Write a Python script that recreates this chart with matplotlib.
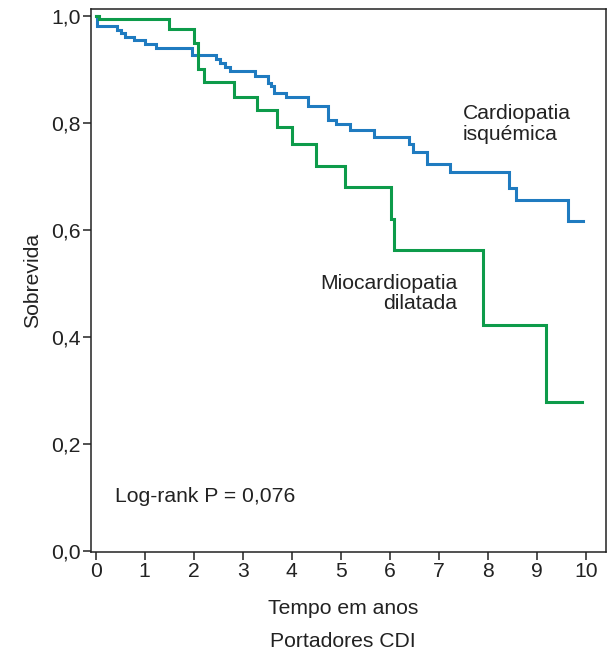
import matplotlib
matplotlib.use("Agg")
import matplotlib.pyplot as plt

# Data
isq_time = [0.0, 0.03, 0.43, 0.51, 0.59, 0.79, 1.01, 1.24, 1.97, 2.45, 2.54, 2.64, 2.74,
            3.25, 3.51, 3.58, 3.64, 3.89, 4.34, 4.73, 4.91, 5.18, 5.67, 6.40, 6.47,
            6.76, 7.22, 8.44, 8.58, 9.64, 9.95]
isq_surv = [1.0, 0.980, 0.974, 0.968, 0.961, 0.955, 0.947, 0.940, 0.926, 0.920, 0.912,
            0.904, 0.896, 0.888, 0.875, 0.869, 0.856, 0.849, 0.832, 0.806, 0.798, 0.786,
            0.774, 0.760, 0.745, 0.724, 0.708, 0.679, 0.656, 0.616, 0.616]

dil_time = [0.0, 0.07, 1.50, 2.01, 2.09, 2.20, 2.82, 3.29, 3.70, 4.01, 4.50, 5.09,
            6.02, 6.09, 7.90, 9.18, 9.93]
dil_surv = [1.0, 0.994, 0.975, 0.949, 0.901, 0.877, 0.849, 0.824, 0.793, 0.760, 0.720,
            0.681, 0.620, 0.563, 0.423, 0.279, 0.279]

x_ticks = list(range(0, 11))
y_ticks = [0.0, 0.2, 0.4, 0.6, 0.8, 1.0]
y_tick_labels = ["0,0", "0,2", "0,4", "0,6", "0,8", "1,0"]

plt.rcParams['font.family'] = ['Liberation Sans', 'DejaVu Sans']
txt_color = "#222222"
fs = 15.2

fig = plt.figure(figsize=(6.08, 6.52), dpi=100)
ax = fig.add_axes([90.7/608, 1-552.3/652, (606-90.7)/608, (552.3-9.3)/652])

ax.step(isq_time, isq_surv, where='post', color="#1f7bc0", lw=2.2, solid_joinstyle='miter')
ax.step(dil_time, dil_surv, where='post', color="#0d9b4a", lw=2.2, solid_joinstyle='miter')

ax.set_xlim(-0.102, 10.41)
ax.set_ylim(-0.002, 1.012)
ax.set_xticks(x_ticks)
ax.set_xticklabels([str(t) for t in x_ticks])
ax.set_yticks(y_ticks)
ax.set_yticklabels(y_tick_labels)

for sp in ax.spines.values():
    sp.set_linewidth(1.1)
    sp.set_color(txt_color)

ax.tick_params(axis='both', direction='out', length=5.5, width=1.1, color=txt_color,
               labelsize=fs, labelcolor=txt_color, pad=1.5)

ax.set_ylabel("Sobrevida", fontsize=fs, color=txt_color, labelpad=7)

fig.text(343/608, 1-608/652, "Tempo em anos", ha='center', va='center',
         fontsize=fs, color=txt_color)
fig.text(343/608, 1-641.7/652, "Portadores CDI", ha='center', va='center',
         fontsize=fs, color=txt_color)

fig.text(463/608, 1-124/652, "Cardiopatia\nisquémica", ha='left', va='center',
         fontsize=fs, color=txt_color, linespacing=1.15)
fig.text(457/608, 1-293.3/652, "Miocardiopatia\ndilatada", ha='right', va='center',
         fontsize=fs, color=txt_color, linespacing=1.1, multialignment='right')
fig.text(115/608, 1-496.7/652, "Log-rank P = 0,076", ha='left', va='center',
         fontsize=fs, color=txt_color)

fig.savefig("out.png", dpi=100)
